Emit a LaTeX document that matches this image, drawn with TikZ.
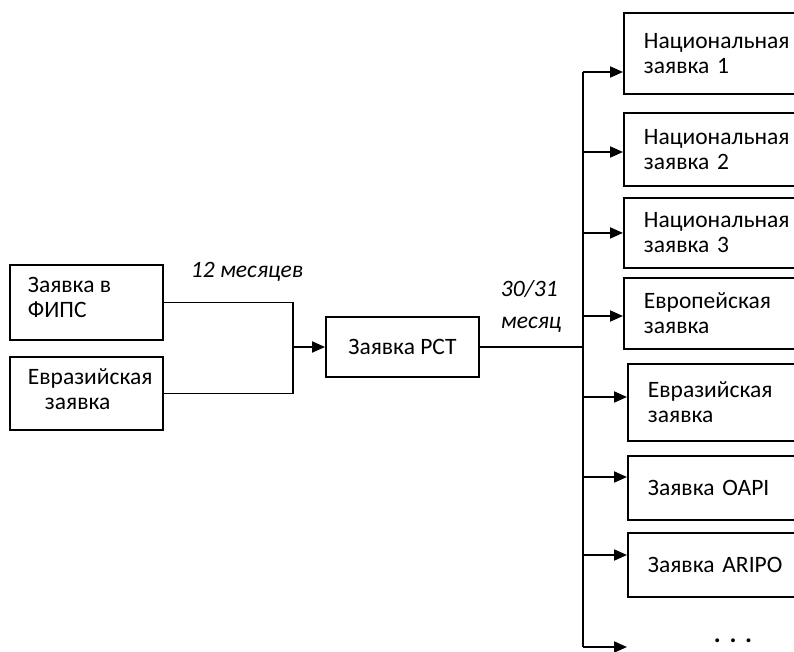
\documentclass[tikz,border=0pt]{standalone}
\usepackage{fontspec}
\setmainfont{Carlito}
\usetikzlibrary{arrows.meta,calc}
\begin{document}
\begin{tikzpicture}[x=1pt,y=-1pt,
  line width=1.9pt,
  box/.style={draw, rectangle, inner sep=0pt, align=left, font=\fontsize{23.5}{25}\selectfont},
  lbl/.style={inner sep=0pt, font=\fontsize{23.5}{32}\selectfont\itshape},
  arr/.style={-{Triangle[length=13pt,width=11pt]}}]
\clip (0,0) rectangle (794,652);
\useasboundingbox (0,0) rectangle (794,652);
% left boxes
\node[box, minimum width=153, minimum height=75] (fips) at (86.5,302.5) {};
\node[box, anchor=north west, draw=none] (fipst) at (27,276) {Заявка в\\ФИПС};
\node[box, minimum width=153, minimum height=73] (evr1) at (86.5,393.5) {};
\node[box, anchor=north west, draw=none] (evr1t) at (27,368) {Евразийская\\\hspace*{17pt}заявка};
% PCT
\node[box, minimum width=153, minimum height=60] (pct) at (402.5,347) {Заявка PCT};
% labels
\node[lbl, anchor=center] (l12) at (247,272) {12 месяцев};
\node[lbl, anchor=west, align=left] (l30) at (500,306) {30/31\\месяц};
% right boxes
\node[box, anchor=north west, minimum width=185, minimum height=81, text width=165, inner xsep=20pt] (n1) at (623,12) {Национальная\\заявка 1};
\node[box, anchor=north west, minimum width=185, minimum height=73, text width=165, inner xsep=20pt] (n2) at (623,112) {Национальная\\заявка 2};
\node[box, anchor=north west, minimum width=185, minimum height=70, text width=165, inner xsep=20pt] (n3) at (623,197) {Национальная\\заявка 3};
\node[box, anchor=north west, minimum width=185, minimum height=71, text width=165, inner xsep=20pt] (eu) at (623,277) {Европейская\\заявка};
\node[box, anchor=north west, minimum width=181, minimum height=77, text width=161, inner xsep=20pt] (ea) at (627,363) {Евразийская\\заявка};
\node[box, anchor=north west, minimum width=181, minimum height=64, text width=161, inner xsep=20pt] (oapi) at (627,455) {Заявка OAPI\\[10pt]};
\node[box, anchor=north west, minimum width=181, minimum height=64, text width=161, inner xsep=20pt] (aripo) at (627,532) {Заявка ARIPO\\[10pt]};
\node[inner sep=0pt, anchor=base, font=\fontsize{26}{26}\selectfont\bfseries] (dots) at (733,642) {.\,\,.\,\,.};
% connectors left
\coordinate (j1) at (293,347);
\draw (fips.east) -| (j1);
\draw (evr1.east) -| (j1);
\draw[arr] (j1) -- (pct.west);
% bus
\coordinate (bt) at (583,72);
\coordinate (bb) at (583,647);
\coordinate (dend) at (627,647);
\draw (pct.east) -- (pct.east -| bt);
\draw (bt) -- (bb);
\draw[arr] (bt) -- (n1.west |- bt);
\draw[arr] (bt |- 0,152) -- (n2.west |- 0,152);
\draw[arr] (bt |- n3.west) -- (n3.west);
\draw[arr] (bt |- 0,316) -- (eu.west |- 0,316);
\draw[arr] (bt |- 0,397) -- (ea.west |- 0,397);
\draw[arr] (bt |- 0,477) -- (oapi.west |- 0,477);
\draw[arr] (bt |- 0,555) -- (aripo.west |- 0,555);
\draw[arr] (bb) -- (dend);
\end{tikzpicture}
\end{document}
